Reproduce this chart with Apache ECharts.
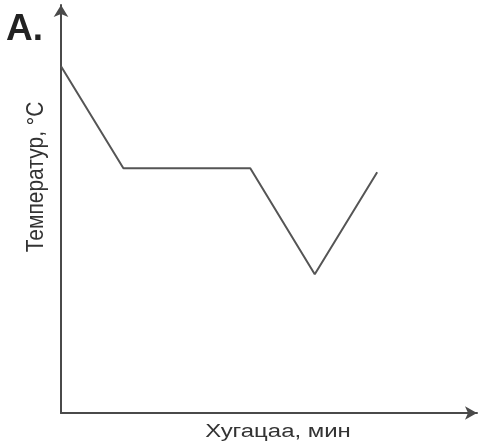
<!DOCTYPE html>
<html>
<head>
<meta charset="utf-8">
<script src="https://cdn.jsdelivr.net/npm/echarts@6/dist/echarts.min.js"></script>
<style>
  html, body { margin: 0; padding: 0; background: #fff; }
  #chart { width: 479px; height: 447px; }
</style>
</head>
<body>
<div id="chart"></div>
<script>
// time (arbitrary units) and temperature (arbitrary units)
var timeVals = [0, 15, 45.5, 61, 76];
var tempVals = [85, 60, 60, 34, 59];
var panelLabel = 'A.';
var xName = 'Хугацаа, мин';
var yName = 'Температур, °C';

var chart = echarts.init(document.getElementById('chart'));
var points = timeVals.map(function (t, i) { return [t, tempVals[i]]; });

chart.setOption({
    animation: false,
    grid: { left: 61, right: 2, top: 5, bottom: 34 },
    xAxis: {
        type: 'value',
        min: 0,
        max: 100,
        axisLine: {
            lineStyle: { color: '#4a4a4a', width: 2 },
            symbol: ['none', 'arrow'],
            symbolSize: [10, 12]
        },
        axisTick: { show: false },
        axisLabel: { show: false },
        splitLine: { show: false }
    },
    yAxis: {
        type: 'value',
        min: 0,
        max: 100,
        axisLine: {
            show: true,
            lineStyle: { color: '#4a4a4a', width: 2 },
            symbol: ['none', 'arrow'],
            symbolSize: [11, 12]
        },
        axisTick: { show: false },
        axisLabel: { show: false },
        splitLine: { show: false }
    },
    graphic: [
        {
            type: 'text', x: 6, y: 30,
            style: {
                text: panelLabel, font: 'bold 37px "Liberation Sans", Arial', fill: '#222',
                verticalAlign: 'middle'
            }
        },
        {
            type: 'text', x: 37, y: 177, rotation: Math.PI / 2, scaleX: 1.05, scaleY: 1.15,
            style: {
                text: yName, font: '20px "Liberation Sans", Arial', fill: '#333',
                align: 'center', verticalAlign: 'middle'
            }
        },
        {
            type: 'text', x: 278, y: 432, scaleX: 1.33,
            style: {
                text: xName, font: '18px "Liberation Sans", Arial', fill: '#333',
                align: 'center', verticalAlign: 'middle'
            }
        }
    ],
    series: [{
        type: 'line',
        data: points,
        symbol: 'none',
        lineStyle: { color: '#555', width: 2 }
    }]
});
</script>
</body>
</html>
